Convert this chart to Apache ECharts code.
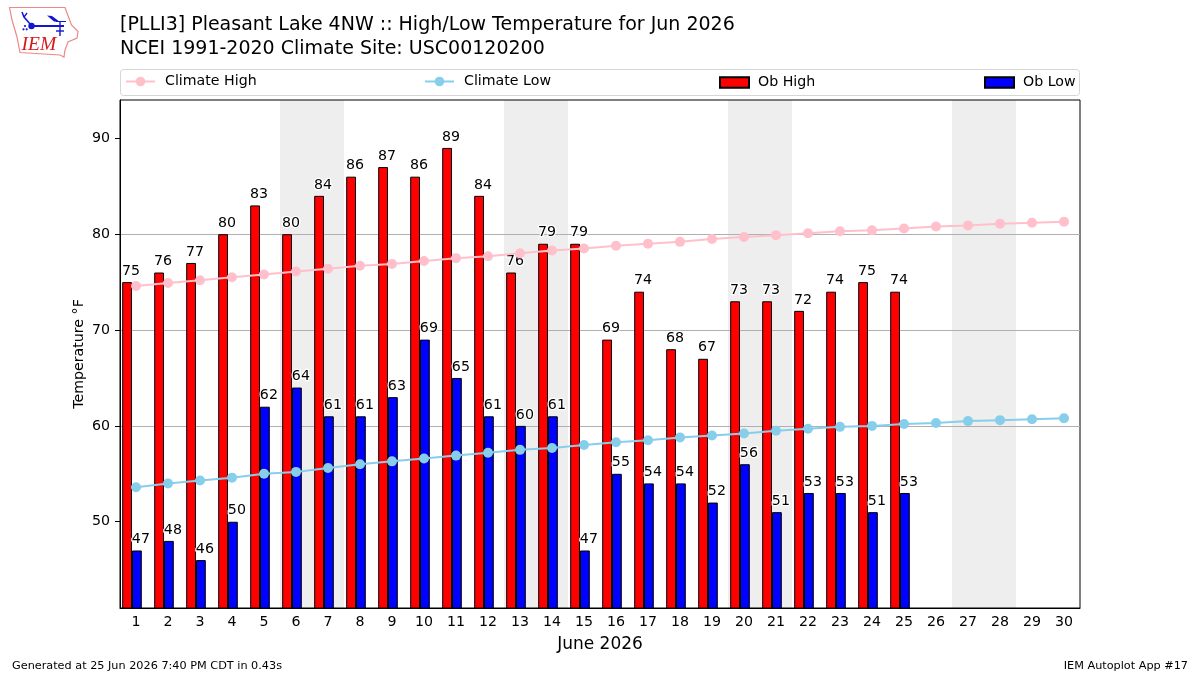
<!DOCTYPE html>
<html>
<head>
<meta charset="utf-8">
<title>Pleasant Lake 4NW High/Low Temperature</title>
<script src="https://cdn.jsdelivr.net/npm/echarts@6/dist/echarts.min.js"></script>
<style>html,body{margin:0;padding:0;background:#fff}#chart{width:1200px;height:675px}</style>
</head>
<body>
<div id="chart"></div>
<script>
const days = ['1','2','3','4','5','6','7','8','9','10','11','12','13','14','15','16','17','18','19','20','21','22','23','24','25','26','27','28','29','30'];
const weekendDays = ['6','7','13','14','20','21','27','28'];
const obHigh = [75,76,77,80,83,80,84,86,87,86,89,84,76,79,79,69,74,68,67,73,73,72,74,75,74,null,null,null,null,null];
const obLow = [47,48,46,50,62,64,61,61,63,69,65,61,60,61,47,55,54,54,52,56,51,53,53,51,53,null,null,null,null,null];
const climateHigh = [74.6,74.9,75.2,75.5,75.8,76.1,76.4,76.7,76.9,77.2,77.5,77.7,78.0,78.3,78.5,78.8,79.0,79.2,79.5,79.7,79.9,80.1,80.3,80.4,80.6,80.8,80.9,81.1,81.2,81.3];
const climateLow = [53.6,54.0,54.3,54.6,55.0,55.2,55.6,56.0,56.3,56.6,56.9,57.2,57.5,57.7,58.0,58.3,58.5,58.8,59.0,59.2,59.5,59.7,59.9,60.0,60.2,60.3,60.5,60.6,60.7,60.8];

const FONT = '"DejaVu Sans"';
const TEXT_SIZE = 14.2;
const chart = echarts.init(document.getElementById('chart'), null, {renderer: 'canvas'});

function legendAt(name, left, isBar) {
  return {
    data: [isBar ? {name, icon: 'rect'} : name],
    left, top: isBar ? 75.5 : 74.5, padding: 0,
    itemWidth: 29, itemHeight: isBar ? 10.5 : 12,
    textStyle: {fontFamily: FONT, fontSize: TEXT_SIZE, color: '#000', padding: [2, 0, 0, isBar ? 4 : 5]},
    selectedMode: false
  };
}

function barSeries(name, color, values) {
  return {
    name, type: 'bar', data: values, barWidth: 9.8, barGap: 0,
    itemStyle: {color, borderColor: '#000', borderWidth: 1},
    label: {show: true, position: 'top', distance: 4, offset: [4, 0],
            fontFamily: FONT, fontSize: TEXT_SIZE, color: '#000',
            textBorderColor: '#fff', textBorderWidth: 2.5}
  };
}

function lineSeries(name, color, values) {
  return {
    name, type: 'line', data: values, symbol: 'circle', symbolSize: 10, showAllSymbol: true,
    lineStyle: {color, width: 2}, itemStyle: {color}
  };
}

// Iowa state outline and station-model glyph of the site logo
const iowaOutline = [[9.5,7.5],[65,7.5],[67,13],[71.5,25],[78,31.5],[77,38],[68,42],[65,50],[64,57],[60,55],[20,52.5],[17,37],[12,20]];
const BLUE = '#1414d2';
const logo = [
  {type: 'polygon', shape: {points: iowaOutline}, style: {fill: '#fff', stroke: '#ea8a8a', lineWidth: 1.2}},
  {type: 'line', shape: {x1: 31.5, y1: 26, x2: 64, y2: 26}, style: {stroke: BLUE, lineWidth: 1.8}},
  {type: 'circle', shape: {cx: 31.5, cy: 26, r: 3.2}, style: {fill: BLUE}},
  {type: 'polyline', shape: {points: [[31,25],[24,17],[22,12]]}, style: {stroke: BLUE, lineWidth: 1.5, fill: 'none'}},
  {type: 'line', shape: {x1: 24, y1: 17, x2: 27, y2: 13}, style: {stroke: BLUE, lineWidth: 1.3}},
  {type: 'polygon', shape: {points: [[47,15.5],[52,16],[60,22],[54,21.5]]}, style: {fill: BLUE}},
  {type: 'line', shape: {x1: 56, y1: 21.5, x2: 66, y2: 21.5}, style: {stroke: BLUE, lineWidth: 1}},
  {type: 'line', shape: {x1: 60, y1: 22, x2: 60, y2: 36}, style: {stroke: BLUE, lineWidth: 1.4}},
  {type: 'line', shape: {x1: 56, y1: 31, x2: 64, y2: 31}, style: {stroke: BLUE, lineWidth: 1.4}},
  {type: 'circle', shape: {cx: 25, cy: 26, r: 1.1}, style: {fill: BLUE}},
  {type: 'circle', shape: {cx: 23.5, cy: 29.3, r: 1.1}, style: {fill: BLUE}},
  {type: 'circle', shape: {cx: 26.7, cy: 29.3, r: 1.1}, style: {fill: BLUE}},
  {type: 'text', style: {x: 21.5, y: 35, text: 'IEM', fill: '#d7191c', font: 'italic 19.5px "Liberation Serif"'}}
];

chart.setOption({
  animation: false,
  backgroundColor: '#fff',
  title: {
    text: '[PLLI3] Pleasant Lake 4NW :: High/Low Temperature for Jun 2026\nNCEI 1991-2020 Climate Site: USC00120200',
    left: 120, top: 13.5, padding: 0,
    textStyle: {fontFamily: FONT, fontSize: 19, fontWeight: 'normal', color: '#000', lineHeight: 24}
  },
  legend: [
    legendAt('Climate High', 125, false),
    legendAt('Climate Low', 424, false),
    legendAt('Ob High', 719, true),
    legendAt('Ob Low', 984, true)
  ],
  grid: {left: 120, right: 120, top: 100, bottom: 67, show: true, borderColor: '#000', borderWidth: 1, backgroundColor: 'transparent'},
  xAxis: {
    type: 'category', data: days, boundaryGap: true,
    name: 'June 2026', nameLocation: 'middle', nameGap: 28.5,
    nameTextStyle: {fontFamily: FONT, fontSize: 17, color: '#000'},
    axisLine: {lineStyle: {color: '#000', width: 1}},
    axisTick: {alignWithLabel: true, length: 5, lineStyle: {color: '#000'}},
    axisLabel: {interval: 0, fontFamily: FONT, fontSize: TEXT_SIZE, color: '#000', margin: 7},
    splitLine: {show: false}
  },
  yAxis: {
    type: 'value', min: 41, max: 94, splitNumber: 5,
    name: 'Temperature °F', nameLocation: 'middle', nameGap: 34, nameMoveOverlap: false,
    nameTextStyle: {fontFamily: FONT, fontSize: TEXT_SIZE, color: '#000'},
    axisLine: {show: true, lineStyle: {color: '#000', width: 1}},
    axisTick: {show: true, length: 5, lineStyle: {color: '#000'}, customValues: [50, 60, 70, 80, 90]},
    axisLabel: {fontFamily: FONT, fontSize: TEXT_SIZE, color: '#000', margin: 10, showMinLabel: false, showMaxLabel: false},
    splitLine: {show: true, showMinLine: false, showMaxLine: false, lineStyle: {color: '#b0b0b0', width: 1}}
  },
  series: [
    {
      // weekend bands, one full category wide per day
      type: 'custom', z: -1, silent: true, clip: true,
      data: weekendDays.map(d => [d]),
      encode: {x: 0},
      renderItem(params, api) {
        const cx = api.coord([api.value(0), 41])[0];
        const w = api.size([1, 0])[0];
        const c = params.coordSys;
        return {type: 'rect', shape: {x: cx - w / 2, y: c.y, width: w, height: c.height},
                style: {fill: '#eeeeee'}};
      }
    },
    barSeries('Ob High', '#ff0000', obHigh),
    barSeries('Ob Low', '#0000ff', obLow),
    // empty series that reserves space right of the pair, moving the bars left of each tick
    {name: 'pair offset', type: 'bar', data: [], barWidth: 8},
    lineSeries('Climate High', '#ffc0cb', climateHigh),
    lineSeries('Climate Low', '#87ceeb', climateLow)
  ],
  graphic: [
    {type: 'rect', z: 0, shape: {x: 120.5, y: 69.5, width: 959, height: 26, r: 3},
     style: {fill: '#fff', stroke: '#d6d6d6', lineWidth: 1}},
    {type: 'group', children: logo},
    {type: 'text', left: 12, top: 660.5, style: {text: 'Generated at 25 Jun 2026 7:40 PM CDT in 0.43s', fill: '#000', font: '11.25px "DejaVu Sans"'}},
    {type: 'text', right: 12, top: 660.5, style: {text: 'IEM Autoplot App #17', fill: '#000', font: '11.25px "DejaVu Sans"'}}
  ]
});
</script>
</body>
</html>
